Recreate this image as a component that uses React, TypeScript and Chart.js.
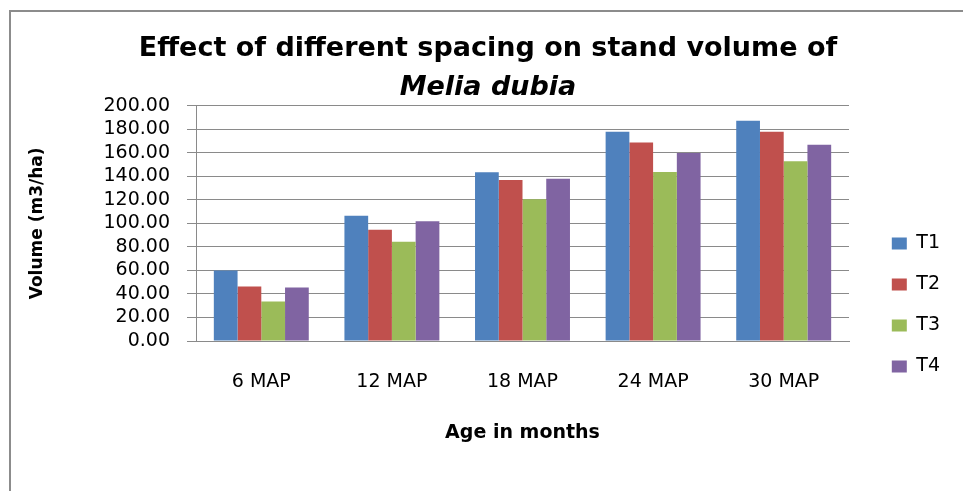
import React, { useEffect, useRef } from "react";
import { Chart, registerables } from "chart.js";

Chart.register(...registerables);

const categories = ["6 MAP", "12 MAP", "18 MAP", "24 MAP", "30 MAP"];
const seriesNames = ["T1", "T2", "T3", "T4"];
const t1Values = [60.0, 106.4, 143.5, 178.0, 187.3];
const t2Values = [46.3, 94.5, 137.0, 168.8, 178.0];
const t3Values = [33.5, 84.3, 120.6, 143.8, 152.9];
const t4Values = [45.5, 101.8, 138.0, 159.8, 166.8];
const seriesColors = ["#4F81BD", "#C0504D", "#9BBB59", "#8064A2"];
const yTickStep = 20;
const yMin = 0;
const yMax = 200;

const W = 963;
const H = 491;
const FONT = '"DejaVu Sans", Verdana, sans-serif';

export default function App() {
  const ref = useRef<HTMLCanvasElement | null>(null);

  useEffect(() => {
    const canvas = ref.current;
    if (!canvas) return;
    const values = [t1Values, t2Values, t3Values, t4Values];
    const padL = 26;
    const padR = 13;
    const plotLeft = 196;
    const plotRight = 849;
    const chart = new Chart(canvas, {
      type: "bar",
      data: {
        labels: categories,
        datasets: seriesNames.map((name, i) => ({
          label: name,
          data: values[i],
          backgroundColor: seriesColors[i],
          borderWidth: 0,
          categoryPercentage: 0.727,
          barPercentage: 1.0,
        })),
      },
      options: {
        responsive: false,
        animation: false,
        devicePixelRatio: 1,
        layout: { padding: { left: padL, right: padR, top: 0, bottom: 0 } },
        plugins: {
          tooltip: { enabled: false },
          title: {
            display: true,
            text: "Effect of different spacing on stand volume of",
            color: "#000",
            font: { family: FONT, size: 27, weight: "bold", lineHeight: 1.2 },
            padding: { top: 33, bottom: 0 },
          },
          subtitle: {
            display: true,
            text: "Melia dubia",
            color: "#000",
            font: { family: FONT, size: 27, weight: "bold", style: "italic", lineHeight: 1.2 },
            padding: { top: 6, bottom: 2 },
          },
          legend: {
            display: true,
            position: "right",
            align: "center",
            title: {
              display: true,
              text: "",
              font: { size: 12, lineHeight: 1.2 },
              padding: { top: 104.6, bottom: 0 },
            },
            labels: {
              boxWidth: 15,
              boxHeight: 12,
              padding: 22,
              color: "#000",
              font: { family: FONT, size: 19 },
            },
          },
        },
        scales: {
          x: {
            grid: { display: false, drawTicks: false },
            border: { display: true, color: "#8a8a8a", width: 1 },
            ticks: {
              color: "#000",
              font: { family: FONT, size: 19 },
              padding: 30,
              maxRotation: 0,
              autoSkip: false,
            },
            title: {
              display: true,
              text: "Age in months",
              color: "#000",
              font: { family: FONT, size: 19, weight: "bold", lineHeight: 1.2 },
              padding: { top: 0, bottom: 46.3 },
            },
            afterFit: (s: any) => {
              s.height = 150;
            },
          },
          y: {
            min: yMin,
            max: yMax,
            grid: {
              color: "#8a8a8a",
              lineWidth: 1,
              drawTicks: true,
              tickLength: 9,
            },
            border: { display: true, color: "#8a8a8a", width: 1 },
            ticks: {
              stepSize: yTickStep,
              autoSkip: false,
              color: "#000",
              font: { family: FONT, size: 19 },
              padding: 17,
              callback: (v: any) => Number(v).toFixed(2),
            },
            title: {
              display: true,
              text: "Volume (m3/ha)",
              color: "#000",
              font: { family: FONT, size: 17, weight: "bold", lineHeight: 1.2 },
              padding: { top: 1.8, bottom: 0 },
            },
            afterFit: (s: any) => {
              s.width = plotLeft - padL;
            },
          },
          y2: {
            type: "linear",
            position: "right",
            display: true,
            grid: { display: false, drawTicks: false },
            border: { display: false },
            ticks: { display: false },
            afterFit: (s: any) => {
              const lw = s.chart.legend ? s.chart.legend.width : 80;
              s.width = Math.max(0, W - padR - plotRight - lw);
            },
          },
        },
      },
    } as any);
    return () => chart.destroy();
  }, []);

  return (
    <div
      style={{
        position: "fixed",
        left: 0,
        top: 0,
        width: W,
        height: H,
        overflow: "hidden",
        background: "#fff",
      }}
    >
      <div
        style={{
          position: "absolute",
          left: 9,
          top: 10,
          width: W,
          height: H,
          borderLeft: "2px solid #8c8c8c",
          borderTop: "2px solid #8c8c8c",
        }}
      />
      <canvas
        ref={ref}
        width={W}
        height={H}
        style={{ position: "absolute", left: 0, top: 0, width: W, height: H }}
      />
    </div>
  );
}
